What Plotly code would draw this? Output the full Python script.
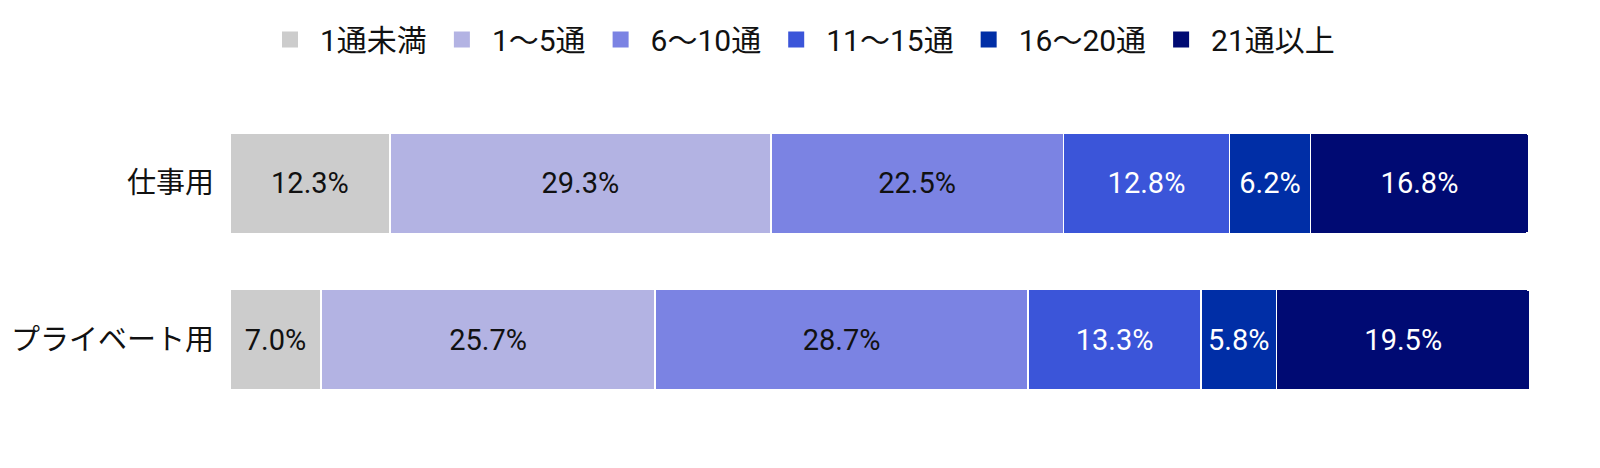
import plotly.graph_objects as go

categories = ["仕事用", "プライベート用"]
series_names = ["1通未満", "1～5通", "6～10通", "11～15通", "16～20通", "21通以上"]
values = {
    "1通未満": [12.3, 7.0],
    "1～5通": [29.3, 25.7],
    "6～10通": [22.5, 28.7],
    "11～15通": [12.8, 13.3],
    "16～20通": [6.2, 5.8],
    "21通以上": [16.8, 19.5],
}
colors = ["#cccccc", "#b3b3e3", "#7b83e3", "#3b55d9", "#002ea6", "#000a73"]
text_colors = ["#111111", "#111111", "#111111", "#ffffff", "#ffffff", "#ffffff"]

FONT = "Roboto, 'Noto Sans CJK JP', sans-serif"

fig = go.Figure()
for name, col, tcol in zip(series_names, colors, text_colors):
    fig.add_trace(go.Bar(
        y=categories, x=values[name], name=name, orientation="h",
        legendgroup=name, showlegend=False,
        marker=dict(color=col, line=dict(color="#ffffff", width=1.5)),
        texttemplate="%{x:.1f}%", textposition="inside", insidetextanchor="middle",
        textangle=0, constraintext="none",
        textfont=dict(color=tcol, size=29, family=FONT),
        hoverinfo="skip",
    ))
# legend entries (square swatches)
for name, col in zip(series_names, colors):
    fig.add_trace(go.Scatter(
        x=[None], y=[None], mode="markers", name=name, legendgroup=name,
        marker=dict(symbol="square", size=16, color=col),
        hoverinfo="skip",
    ))

fig.update_layout(
    width=1600, height=468,
    barmode="stack", bargap=0.36, barcornerradius=3,
    paper_bgcolor="white", plot_bgcolor="white",
    margin=dict(l=230, r=70, t=105, b=50),
    font=dict(family=FONT, size=29, color="#111111"),
    legend=dict(orientation="h", xref="container", x=0.5, xanchor="center",
                yref="container", y=0.9156, yanchor="middle",
                font=dict(size=30, family=FONT, color="#111111"),
                itemwidth=50,
                itemsizing="trace", traceorder="normal", itemclick=False),
    xaxis=dict(range=[0, 100], visible=False, fixedrange=True),
    yaxis=dict(autorange="reversed", showgrid=False, zeroline=False,
               showline=False, ticks="", ticklabelstandoff=15, automargin=False,
               tickfont=dict(size=29, family=FONT, color="#111111")),
)

fig.write_html("out.html", config={"displayModeBar": False},
               post_script="document.body.style.margin='0';")
